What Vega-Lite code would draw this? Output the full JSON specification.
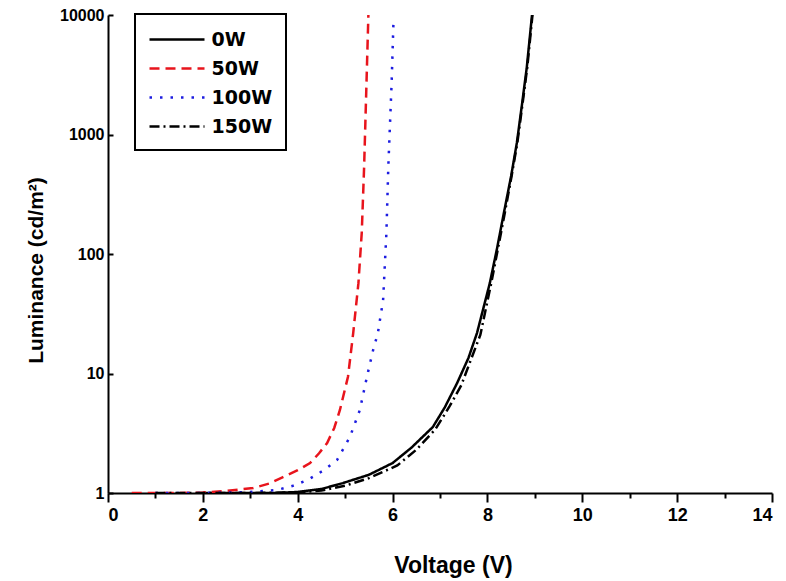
{
  "$schema": "https://vega.github.io/schema/vega-lite/v6.json",
  "width": 664,
  "height": 478,
  "autosize": {"type": "none"},
  "padding": {"left": 108, "top": 15, "right": 14, "bottom": 88},
  "background": "white",
  "config": {
    "font": "Liberation Sans",
    "view": {"stroke": null},
    "axis": {"grid": false, "domainColor": "black", "domainWidth": 2, "tickColor": "black", "tickWidth": 2, "labelColor": "black", "labelFont": "Liberation Sans", "labelFontWeight": "bold", "titleFont": "Liberation Sans", "titleFontWeight": "bold", "titleColor": "black"},
    "legend": {"strokeWidth": 2}
  },
  "data": {"values": [
    {"series": "0W", "v": 2.0, "lum": 1.0},
    {"series": "0W", "v": 3.0, "lum": 1.0},
    {"series": "0W", "v": 3.5, "lum": 1.0},
    {"series": "0W", "v": 4.0, "lum": 1.02},
    {"series": "0W", "v": 4.5, "lum": 1.08},
    {"series": "0W", "v": 4.95, "lum": 1.21},
    {"series": "0W", "v": 5.5, "lum": 1.42},
    {"series": "0W", "v": 6.0, "lum": 1.78},
    {"series": "0W", "v": 6.4, "lum": 2.4},
    {"series": "0W", "v": 6.85, "lum": 3.57},
    {"series": "0W", "v": 7.1, "lum": 5.2},
    {"series": "0W", "v": 7.36, "lum": 8.3},
    {"series": "0W", "v": 7.6, "lum": 13.5},
    {"series": "0W", "v": 7.78, "lum": 21.8},
    {"series": "0W", "v": 8.05, "lum": 57},
    {"series": "0W", "v": 8.2, "lum": 110},
    {"series": "0W", "v": 8.33, "lum": 204},
    {"series": "0W", "v": 8.5, "lum": 450},
    {"series": "0W", "v": 8.62, "lum": 850},
    {"series": "0W", "v": 8.73, "lum": 1800},
    {"series": "0W", "v": 8.83, "lum": 3650},
    {"series": "0W", "v": 8.94, "lum": 10000},
    {"series": "50W", "v": 0.5, "lum": 1.0},
    {"series": "50W", "v": 1.5, "lum": 1.0},
    {"series": "50W", "v": 2.0, "lum": 1.01},
    {"series": "50W", "v": 2.5, "lum": 1.04},
    {"series": "50W", "v": 3.06, "lum": 1.1},
    {"series": "50W", "v": 3.4, "lum": 1.2},
    {"series": "50W", "v": 3.69, "lum": 1.36},
    {"series": "50W", "v": 4.0, "lum": 1.55},
    {"series": "50W", "v": 4.26, "lum": 1.78},
    {"series": "50W", "v": 4.45, "lum": 2.15},
    {"series": "50W", "v": 4.62, "lum": 2.62},
    {"series": "50W", "v": 4.77, "lum": 3.5},
    {"series": "50W", "v": 4.89, "lum": 4.95},
    {"series": "50W", "v": 5.06, "lum": 9.4},
    {"series": "50W", "v": 5.17, "lum": 21.8},
    {"series": "50W", "v": 5.28, "lum": 57},
    {"series": "50W", "v": 5.35, "lum": 150},
    {"series": "50W", "v": 5.4, "lum": 535},
    {"series": "50W", "v": 5.44, "lum": 1945},
    {"series": "50W", "v": 5.49, "lum": 10000},
    {"series": "100W", "v": 1.0, "lum": 1.0},
    {"series": "100W", "v": 2.0, "lum": 1.0},
    {"series": "100W", "v": 3.0, "lum": 1.02},
    {"series": "100W", "v": 3.56, "lum": 1.06},
    {"series": "100W", "v": 3.9, "lum": 1.15},
    {"series": "100W", "v": 4.2, "lum": 1.28},
    {"series": "100W", "v": 4.55, "lum": 1.55},
    {"series": "100W", "v": 4.83, "lum": 1.89},
    {"series": "100W", "v": 5.1, "lum": 2.94},
    {"series": "100W", "v": 5.31, "lum": 4.95},
    {"series": "100W", "v": 5.46, "lum": 9.4},
    {"series": "100W", "v": 5.59, "lum": 15.7},
    {"series": "100W", "v": 5.69, "lum": 21.8},
    {"series": "100W", "v": 5.8, "lum": 41},
    {"series": "100W", "v": 5.87, "lum": 150},
    {"series": "100W", "v": 5.91, "lum": 535},
    {"series": "100W", "v": 5.98, "lum": 2700},
    {"series": "100W", "v": 6.02, "lum": 9100},
    {"series": "150W", "v": 1.0, "lum": 1.0},
    {"series": "150W", "v": 2.0, "lum": 1.0},
    {"series": "150W", "v": 3.0, "lum": 1.0},
    {"series": "150W", "v": 4.0, "lum": 1.01},
    {"series": "150W", "v": 4.5, "lum": 1.05},
    {"series": "150W", "v": 5.0, "lum": 1.15},
    {"series": "150W", "v": 5.5, "lum": 1.33},
    {"series": "150W", "v": 6.1, "lum": 1.7},
    {"series": "150W", "v": 6.5, "lum": 2.3},
    {"series": "150W", "v": 6.9, "lum": 3.4},
    {"series": "150W", "v": 7.2, "lum": 5.3},
    {"series": "150W", "v": 7.45, "lum": 8},
    {"series": "150W", "v": 7.65, "lum": 13},
    {"series": "150W", "v": 7.85, "lum": 21},
    {"series": "150W", "v": 8.08, "lum": 57},
    {"series": "150W", "v": 8.22, "lum": 110},
    {"series": "150W", "v": 8.35, "lum": 204},
    {"series": "150W", "v": 8.51, "lum": 450},
    {"series": "150W", "v": 8.63, "lum": 850},
    {"series": "150W", "v": 8.74, "lum": 1800},
    {"series": "150W", "v": 8.84, "lum": 3650},
    {"series": "150W", "v": 8.95, "lum": 10000}
  ]},
  "mark": {"type": "line", "clip": true},
  "encoding": {
    "x": {"field": "v", "type": "quantitative",
      "scale": {"domain": [0, 14], "nice": false},
      "axis": {"title": "Voltage (V)", "values": [0,1,2,3,4,5,6,7,8,9,10,11,12,13,14],
        "labelExpr": "datum.value % 2 == 0 ? datum.label : ''",
        "labelFontSize": 18,
        "tickSize": {"condition": {"test": "datum.value % 2 == 0", "value": 9}, "value": 5},
        "labelPadding": 4, "titleFontSize": 23, "titleX": 345, "titleY": 79, "titleBaseline": "alphabetic"}},
    "y": {"field": "lum", "type": "quantitative",
      "scale": {"type": "log", "domain": [1, 10000], "nice": false},
      "axis": {"title": "Luminance (cd/m²)", "values": [1, 10, 100, 1000, 10000], "format": "d",
        "labelFontSize": 16, "tickSize": -5, "labelPadding": 9,
        "titleFontSize": 21, "titleX": -66, "titleY": 255, "titleBaseline": "alphabetic", "titleAngle": -90, "titleAlign": "center"}},
    "color": {"field": "series", "type": "nominal",
      "scale": {"domain": ["0W", "50W", "100W", "150W"], "range": ["#000000", "#e8141c", "#1c1ce0", "#000000"]},
      "legend": {"title": null, "orient": "none", "legendX": 27, "legendY": -1,
        "strokeColor": "black", "padding": 13, "symbolType": "M-2.5,0H2.5", "symbolSize": 484,
        "symbolStrokeWidth": 2.5, "symbolOffset": 16.5, "labelOffset": 22, "rowPadding": 6,
        "labelFontSize": 19, "labelFontWeight": "bold", "labelColor": "black", "labelFont": "DejaVu Sans"}},
    "strokeDash": {"field": "series", "type": "nominal",
      "scale": {"domain": ["0W", "50W", "100W", "150W"], "range": [[1, 0], [10, 6], [2.5, 8], [10, 4, 2, 4]]}},
    "strokeWidth": {"field": "series", "type": "nominal", "legend": null,
      "scale": {"domain": ["0W", "50W", "100W", "150W"], "range": [2.5, 2.5, 2.5, 1.5]}}
  }
}
